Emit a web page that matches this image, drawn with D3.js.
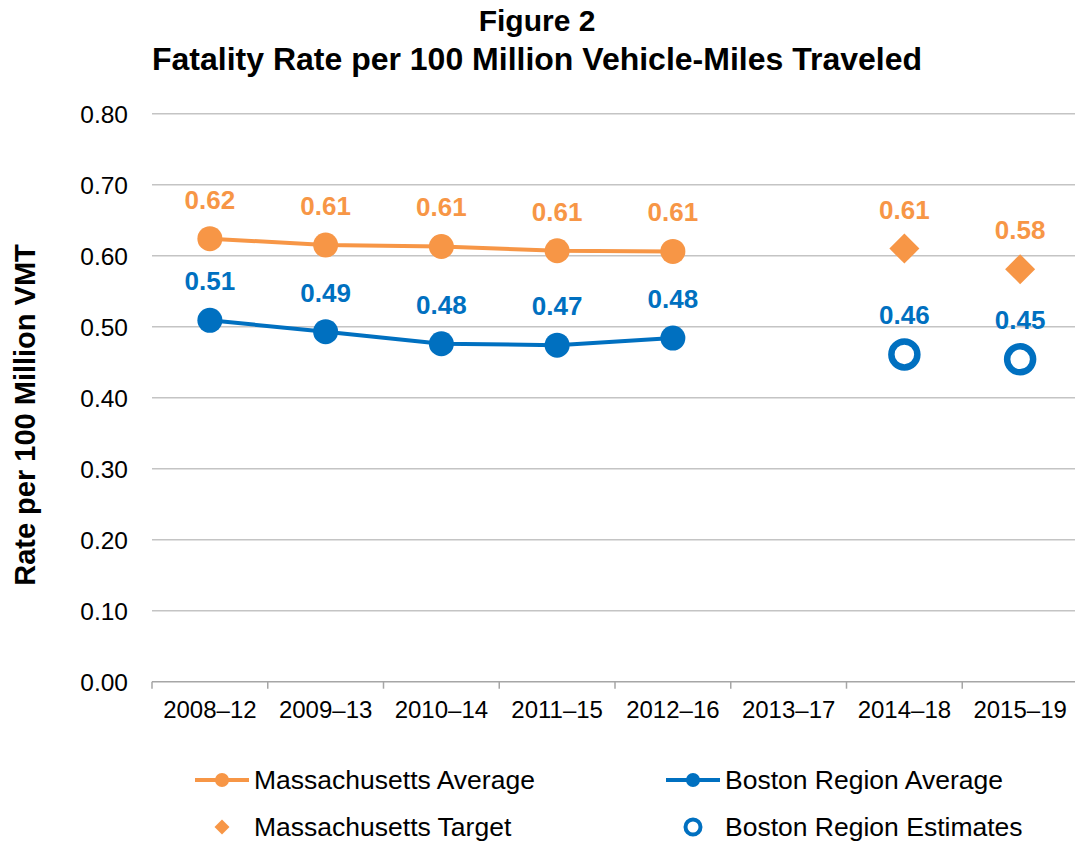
<!DOCTYPE html>
<html><head><meta charset="utf-8">
<script src="https://cdn.jsdelivr.net/npm/d3@7"></script>
<style>body{margin:0;background:#fff}svg{display:block}text{font-family:"Liberation Sans",Arial,sans-serif}</style>
</head><body>
<svg id="c" width="1075" height="841"></svg>
<script>
const categories = ["2008–12","2009–13","2010–14","2011–15","2012–16","2013–17","2014–18","2015–19"];
const maAverage = [0.624, 0.615, 0.613, 0.607, 0.606, null, null, null];
const bostonAverage = [0.509, 0.493, 0.476, 0.474, 0.484, null, null, null];
const maTarget = [null, null, null, null, null, null, 0.610, 0.581];
const bostonEstimates = [null, null, null, null, null, null, 0.461, 0.454];
const yTicks = [0, 0.1, 0.2, 0.3, 0.4, 0.5, 0.6, 0.7, 0.8];
const titleLines = ["Figure 2", "Fatality Rate per 100 Million Vehicle-Miles Traveled"];
const yTitle = "Rate per 100 Million VMT";
const legendItems = [
  {label:"Massachusetts Average", type:"line", color:"#F79646"},
  {label:"Boston Region Average", type:"line", color:"#0070C0"},
  {label:"Massachusetts Target", type:"diamond", color:"#F79646"},
  {label:"Boston Region Estimates", type:"ring", color:"#0070C0"}
];

const ORANGE = "#F79646", BLUE = "#0070C0";
const svg = d3.select("#c");
const x = d3.scalePoint().domain(categories).range([152, 1078]).padding(0.5);
const y = d3.scaleLinear().domain([0, 0.8]).range([681.7, 113.7]);
const fmt = d3.format(".2f");

// title
svg.selectAll("text.title").data(titleLines).join("text")
  .attr("x", 537).attr("y", (d,i)=> i===0 ? 31 : 70)
  .attr("text-anchor","middle").attr("font-weight","bold").attr("font-size", (d,i)=> i===0 ? 30 : 32)
  .attr("fill","#000").text(d=>d);

// gridlines
svg.append("g").selectAll("line").data(yTicks.filter(d=>d>0)).join("line")
  .attr("x1",152).attr("x2",1078).attr("y1",d=>y(d)).attr("y2",d=>y(d))
  .attr("stroke","#c4c4c4").attr("stroke-width",1.5);

// y axis labels
const yAxis = d3.axisLeft(y).tickValues(yTicks).tickFormat(fmt).tickSize(0).tickPadding(24);
const gy = svg.append("g").attr("transform","translate(152,0)").call(yAxis);
gy.select(".domain").remove();
gy.selectAll("text").attr("font-size",24.5).attr("fill","#000")
  .attr("font-family","'Liberation Sans',Arial,sans-serif").attr("dy","0.36em");

// x axis
const bw = x.step();
const gx = svg.append("g").attr("transform","translate(0,681.7)");
gx.append("line").attr("x1",152).attr("x2",1078).attr("stroke","#a6a6a6").attr("stroke-width",1.5);
gx.selectAll("line.tk").data(d3.range(categories.length+1)).join("line").attr("class","tk")
  .attr("x1",i=>152+i*bw).attr("x2",i=>152+i*bw).attr("y1",0).attr("y2",7)
  .attr("stroke","#a6a6a6").attr("stroke-width",1.5);
gx.selectAll("text").data(categories).join("text")
  .attr("x",d=>x(d)).attr("y",36.5).attr("text-anchor","middle")
  .attr("font-size",24).attr("fill","#000").text(d=>d);

// y title
svg.append("text").attr("transform","translate(35,415) rotate(-90)")
  .attr("text-anchor","middle").attr("font-weight","bold").attr("font-size",29)
  .attr("fill","#000").text(yTitle);

function lineSeries(vals, color){
  const pts = vals.map((v,i)=>({c:categories[i], v})).filter(d=>d.v!=null);
  svg.append("path").datum(pts)
    .attr("d", d3.line().x(d=>x(d.c)).y(d=>y(d.v)))
    .attr("fill","none").attr("stroke",color).attr("stroke-width",4);
  svg.append("g").selectAll("circle").data(pts).join("circle")
    .attr("cx",d=>x(d.c)).attr("cy",d=>y(d.v)).attr("r",12.5).attr("fill",color);
  labels(pts, color);
}
function labels(pts, color){
  svg.append("g").selectAll("text").data(pts).join("text")
    .attr("x",d=>x(d.c)).attr("y",d=>y(d.v)-30).attr("text-anchor","middle")
    .attr("font-weight","bold").attr("font-size",26).attr("fill",color)
    .text(d=>fmt(d.v));
}
lineSeries(maAverage, ORANGE);
lineSeries(bostonAverage, BLUE);

const tPts = maTarget.map((v,i)=>({c:categories[i], v})).filter(d=>d.v!=null);
svg.append("g").selectAll("path").data(tPts).join("path")
  .attr("d", d3.symbol(d3.symbolSquare, 450)())
  .attr("transform", d=>`translate(${x(d.c)},${y(d.v)}) rotate(45)`).attr("fill",ORANGE);
labels(tPts, ORANGE);

const ePts = bostonEstimates.map((v,i)=>({c:categories[i], v})).filter(d=>d.v!=null);
svg.append("g").selectAll("circle").data(ePts).join("circle")
  .attr("cx",d=>x(d.c)).attr("cy",d=>y(d.v)).attr("r",13)
  .attr("fill","#fff").attr("stroke",BLUE).attr("stroke-width",6.5);
labels(ePts, BLUE);

// legend
const lg = svg.append("g").selectAll("g").data(legendItems).join("g")
  .attr("transform",(d,i)=>`translate(${i%2===0?222:693},${i<2?780:827})`);
lg.each(function(d){
  const g = d3.select(this);
  if(d.type==="line"){
    g.append("line").attr("x1",-27).attr("x2",27).attr("stroke",d.color).attr("stroke-width",4);
    g.append("circle").attr("r",7).attr("fill",d.color);
  } else if(d.type==="diamond"){
    g.append("path").attr("d", d3.symbol(d3.symbolSquare,112)()).attr("transform","rotate(45)").attr("fill",d.color);
  } else {
    g.append("circle").attr("r",7.5).attr("fill","#fff").attr("stroke",d.color).attr("stroke-width",4);
  }
  g.append("text").attr("x",32).attr("y",9).attr("font-size",26.5).attr("fill","#000").text(d.label);
});
</script>
</body></html>
